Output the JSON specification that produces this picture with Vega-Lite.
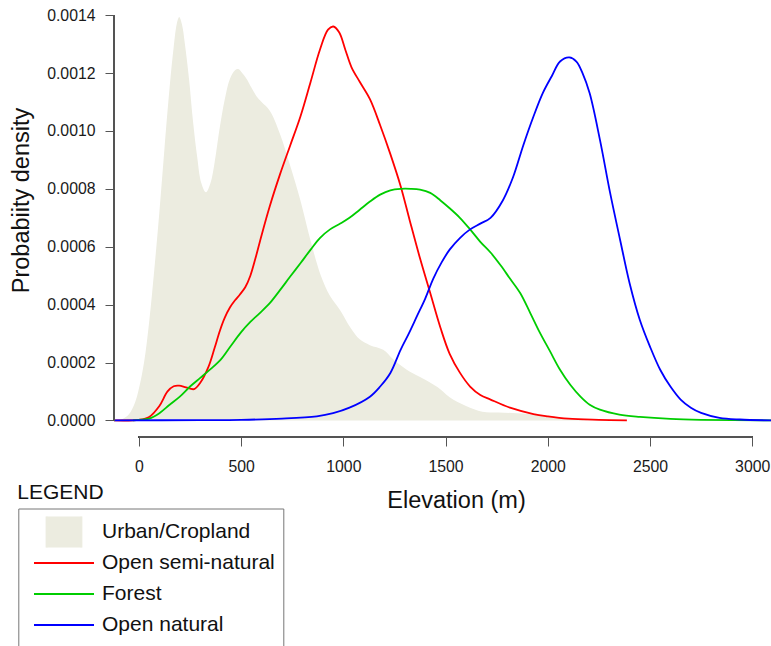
{
  "$schema": "https://vega.github.io/schema/vega-lite/v6.json",
  "width": 657,
  "height": 437,
  "autosize": {"type": "none"},
  "padding": {"left": 114, "top": 0, "right": 0, "bottom": 209},
  "background": "white",
  "config": {"view": {"stroke": null}, "font": "Liberation Sans"},
  "title": {"text": "LEGEND", "orient": "bottom", "anchor": "start", "frame": "group", "fontSize": 21, "fontWeight": "normal", "font": "Liberation Sans", "color": "#111111", "dx": -96.7, "offset": -150, "baseline": "alphabetic"},
  "datasets": {
    "dens": [
      {"landcover": "Urban/Cropland", "elevation": -122, "density": 0},
      {"landcover": "Urban/Cropland", "elevation": -80, "density": 0.000005},
      {"landcover": "Urban/Cropland", "elevation": -50, "density": 0.00002},
      {"landcover": "Urban/Cropland", "elevation": -20, "density": 0.00006},
      {"landcover": "Urban/Cropland", "elevation": 0, "density": 0.00011},
      {"landcover": "Urban/Cropland", "elevation": 25, "density": 0.0002},
      {"landcover": "Urban/Cropland", "elevation": 50, "density": 0.00034},
      {"landcover": "Urban/Cropland", "elevation": 75, "density": 0.00052},
      {"landcover": "Urban/Cropland", "elevation": 100, "density": 0.00072},
      {"landcover": "Urban/Cropland", "elevation": 125, "density": 0.00094},
      {"landcover": "Urban/Cropland", "elevation": 150, "density": 0.00115},
      {"landcover": "Urban/Cropland", "elevation": 170, "density": 0.00129},
      {"landcover": "Urban/Cropland", "elevation": 185, "density": 0.00137},
      {"landcover": "Urban/Cropland", "elevation": 197, "density": 0.001394},
      {"landcover": "Urban/Cropland", "elevation": 210, "density": 0.00137},
      {"landcover": "Urban/Cropland", "elevation": 225, "density": 0.0013},
      {"landcover": "Urban/Cropland", "elevation": 245, "density": 0.00118},
      {"landcover": "Urban/Cropland", "elevation": 265, "density": 0.00103},
      {"landcover": "Urban/Cropland", "elevation": 285, "density": 0.00091},
      {"landcover": "Urban/Cropland", "elevation": 305, "density": 0.00082},
      {"landcover": "Urban/Cropland", "elevation": 328, "density": 0.000788},
      {"landcover": "Urban/Cropland", "elevation": 350, "density": 0.00082},
      {"landcover": "Urban/Cropland", "elevation": 370, "density": 0.00089},
      {"landcover": "Urban/Cropland", "elevation": 395, "density": 0.00101},
      {"landcover": "Urban/Cropland", "elevation": 420, "density": 0.00111},
      {"landcover": "Urban/Cropland", "elevation": 445, "density": 0.00118},
      {"landcover": "Urban/Cropland", "elevation": 470, "density": 0.00121},
      {"landcover": "Urban/Cropland", "elevation": 486, "density": 0.001214},
      {"landcover": "Urban/Cropland", "elevation": 505, "density": 0.0012},
      {"landcover": "Urban/Cropland", "elevation": 527, "density": 0.00118},
      {"landcover": "Urban/Cropland", "elevation": 550, "density": 0.00115},
      {"landcover": "Urban/Cropland", "elevation": 575, "density": 0.00112},
      {"landcover": "Urban/Cropland", "elevation": 600, "density": 0.0011},
      {"landcover": "Urban/Cropland", "elevation": 640, "density": 0.00107},
      {"landcover": "Urban/Cropland", "elevation": 690, "density": 0.00099},
      {"landcover": "Urban/Cropland", "elevation": 740, "density": 0.00088},
      {"landcover": "Urban/Cropland", "elevation": 790, "density": 0.00076},
      {"landcover": "Urban/Cropland", "elevation": 840, "density": 0.00062},
      {"landcover": "Urban/Cropland", "elevation": 890, "density": 0.0005},
      {"landcover": "Urban/Cropland", "elevation": 935, "density": 0.00043},
      {"landcover": "Urban/Cropland", "elevation": 985, "density": 0.00038},
      {"landcover": "Urban/Cropland", "elevation": 1035, "density": 0.00032},
      {"landcover": "Urban/Cropland", "elevation": 1080, "density": 0.00028},
      {"landcover": "Urban/Cropland", "elevation": 1130, "density": 0.00026},
      {"landcover": "Urban/Cropland", "elevation": 1195, "density": 0.000244},
      {"landcover": "Urban/Cropland", "elevation": 1245, "density": 0.00021},
      {"landcover": "Urban/Cropland", "elevation": 1310, "density": 0.000175},
      {"landcover": "Urban/Cropland", "elevation": 1375, "density": 0.00015},
      {"landcover": "Urban/Cropland", "elevation": 1460, "density": 0.000115},
      {"landcover": "Urban/Cropland", "elevation": 1520, "density": 0.00008},
      {"landcover": "Urban/Cropland", "elevation": 1600, "density": 0.00005},
      {"landcover": "Urban/Cropland", "elevation": 1680, "density": 0.00003},
      {"landcover": "Urban/Cropland", "elevation": 1760, "density": 0.000027},
      {"landcover": "Urban/Cropland", "elevation": 1850, "density": 0.000025},
      {"landcover": "Urban/Cropland", "elevation": 1950, "density": 0.00002},
      {"landcover": "Urban/Cropland", "elevation": 2010, "density": 0.000015},
      {"landcover": "Urban/Cropland", "elevation": 2100, "density": 0.000005},
      {"landcover": "Urban/Cropland", "elevation": 2200, "density": 0},

      {"landcover": "Open semi-natural", "elevation": -122, "density": 0},
      {"landcover": "Open semi-natural", "elevation": 0, "density": 0.000002},
      {"landcover": "Open semi-natural", "elevation": 50, "density": 0.000012},
      {"landcover": "Open semi-natural", "elevation": 100, "density": 0.00005},
      {"landcover": "Open semi-natural", "elevation": 140, "density": 0.0001},
      {"landcover": "Open semi-natural", "elevation": 170, "density": 0.000118},
      {"landcover": "Open semi-natural", "elevation": 197, "density": 0.00012},
      {"landcover": "Open semi-natural", "elevation": 230, "density": 0.000114},
      {"landcover": "Open semi-natural", "elevation": 270, "density": 0.000108},
      {"landcover": "Open semi-natural", "elevation": 300, "density": 0.00013},
      {"landcover": "Open semi-natural", "elevation": 340, "density": 0.000185},
      {"landcover": "Open semi-natural", "elevation": 370, "density": 0.00025},
      {"landcover": "Open semi-natural", "elevation": 396, "density": 0.00031},
      {"landcover": "Open semi-natural", "elevation": 420, "density": 0.000355},
      {"landcover": "Open semi-natural", "elevation": 445, "density": 0.00039},
      {"landcover": "Open semi-natural", "elevation": 470, "density": 0.000415},
      {"landcover": "Open semi-natural", "elevation": 494, "density": 0.000435},
      {"landcover": "Open semi-natural", "elevation": 520, "density": 0.00046},
      {"landcover": "Open semi-natural", "elevation": 545, "density": 0.0005},
      {"landcover": "Open semi-natural", "elevation": 570, "density": 0.00056},
      {"landcover": "Open semi-natural", "elevation": 600, "density": 0.00064},
      {"landcover": "Open semi-natural", "elevation": 640, "density": 0.00074},
      {"landcover": "Open semi-natural", "elevation": 690, "density": 0.00085},
      {"landcover": "Open semi-natural", "elevation": 740, "density": 0.00095},
      {"landcover": "Open semi-natural", "elevation": 790, "density": 0.00105},
      {"landcover": "Open semi-natural", "elevation": 840, "density": 0.00117},
      {"landcover": "Open semi-natural", "elevation": 885, "density": 0.00128},
      {"landcover": "Open semi-natural", "elevation": 925, "density": 0.00135},
      {"landcover": "Open semi-natural", "elevation": 951, "density": 0.001361},
      {"landcover": "Open semi-natural", "elevation": 980, "density": 0.00134},
      {"landcover": "Open semi-natural", "elevation": 1010, "density": 0.00128},
      {"landcover": "Open semi-natural", "elevation": 1040, "density": 0.00122},
      {"landcover": "Open semi-natural", "elevation": 1080, "density": 0.00117},
      {"landcover": "Open semi-natural", "elevation": 1130, "density": 0.00111},
      {"landcover": "Open semi-natural", "elevation": 1180, "density": 0.00102},
      {"landcover": "Open semi-natural", "elevation": 1230, "density": 0.00092},
      {"landcover": "Open semi-natural", "elevation": 1280, "density": 0.00081},
      {"landcover": "Open semi-natural", "elevation": 1325, "density": 0.00069},
      {"landcover": "Open semi-natural", "elevation": 1375, "density": 0.00056},
      {"landcover": "Open semi-natural", "elevation": 1425, "density": 0.00044},
      {"landcover": "Open semi-natural", "elevation": 1475, "density": 0.00032},
      {"landcover": "Open semi-natural", "elevation": 1520, "density": 0.00023},
      {"landcover": "Open semi-natural", "elevation": 1570, "density": 0.000165},
      {"landcover": "Open semi-natural", "elevation": 1620, "density": 0.000117},
      {"landcover": "Open semi-natural", "elevation": 1670, "density": 0.000088},
      {"landcover": "Open semi-natural", "elevation": 1720, "density": 0.000072},
      {"landcover": "Open semi-natural", "elevation": 1815, "density": 0.000044},
      {"landcover": "Open semi-natural", "elevation": 1930, "density": 0.000022},
      {"landcover": "Open semi-natural", "elevation": 2000, "density": 0.000014},
      {"landcover": "Open semi-natural", "elevation": 2100, "density": 0.000006},
      {"landcover": "Open semi-natural", "elevation": 2250, "density": 0.000002},
      {"landcover": "Open semi-natural", "elevation": 2387, "density": 0},

      {"landcover": "Forest", "elevation": -30, "density": 0},
      {"landcover": "Forest", "elevation": 0, "density": 0.000002},
      {"landcover": "Forest", "elevation": 50, "density": 0.000006},
      {"landcover": "Forest", "elevation": 100, "density": 0.000025},
      {"landcover": "Forest", "elevation": 150, "density": 0.000054},
      {"landcover": "Forest", "elevation": 200, "density": 0.000082},
      {"landcover": "Forest", "elevation": 250, "density": 0.000117},
      {"landcover": "Forest", "elevation": 300, "density": 0.000147},
      {"landcover": "Forest", "elevation": 350, "density": 0.000177},
      {"landcover": "Forest", "elevation": 400, "density": 0.00021},
      {"landcover": "Forest", "elevation": 450, "density": 0.000258},
      {"landcover": "Forest", "elevation": 500, "density": 0.000305},
      {"landcover": "Forest", "elevation": 545, "density": 0.00034},
      {"landcover": "Forest", "elevation": 590, "density": 0.00037},
      {"landcover": "Forest", "elevation": 640, "density": 0.000405},
      {"landcover": "Forest", "elevation": 690, "density": 0.00045},
      {"landcover": "Forest", "elevation": 740, "density": 0.000497},
      {"landcover": "Forest", "elevation": 790, "density": 0.000543},
      {"landcover": "Forest", "elevation": 840, "density": 0.00059},
      {"landcover": "Forest", "elevation": 885, "density": 0.00063},
      {"landcover": "Forest", "elevation": 935, "density": 0.00066},
      {"landcover": "Forest", "elevation": 985, "density": 0.00068},
      {"landcover": "Forest", "elevation": 1030, "density": 0.0007},
      {"landcover": "Forest", "elevation": 1080, "density": 0.000728},
      {"landcover": "Forest", "elevation": 1130, "density": 0.000756},
      {"landcover": "Forest", "elevation": 1180, "density": 0.00078},
      {"landcover": "Forest", "elevation": 1230, "density": 0.000795},
      {"landcover": "Forest", "elevation": 1280, "density": 0.0008},
      {"landcover": "Forest", "elevation": 1330, "density": 0.0008},
      {"landcover": "Forest", "elevation": 1375, "density": 0.000797},
      {"landcover": "Forest", "elevation": 1425, "density": 0.000786},
      {"landcover": "Forest", "elevation": 1475, "density": 0.00076},
      {"landcover": "Forest", "elevation": 1520, "density": 0.000733},
      {"landcover": "Forest", "elevation": 1570, "density": 0.0007},
      {"landcover": "Forest", "elevation": 1620, "density": 0.00066},
      {"landcover": "Forest", "elevation": 1670, "density": 0.000617},
      {"landcover": "Forest", "elevation": 1720, "density": 0.00058},
      {"landcover": "Forest", "elevation": 1770, "density": 0.000535},
      {"landcover": "Forest", "elevation": 1815, "density": 0.00049},
      {"landcover": "Forest", "elevation": 1865, "density": 0.00044},
      {"landcover": "Forest", "elevation": 1915, "density": 0.00037},
      {"landcover": "Forest", "elevation": 1960, "density": 0.000305},
      {"landcover": "Forest", "elevation": 2010, "density": 0.00024},
      {"landcover": "Forest", "elevation": 2060, "density": 0.000175},
      {"landcover": "Forest", "elevation": 2110, "density": 0.000123},
      {"landcover": "Forest", "elevation": 2160, "density": 0.000082},
      {"landcover": "Forest", "elevation": 2205, "density": 0.000054},
      {"landcover": "Forest", "elevation": 2255, "density": 0.000037},
      {"landcover": "Forest", "elevation": 2350, "density": 0.00002},
      {"landcover": "Forest", "elevation": 2450, "density": 0.000012},
      {"landcover": "Forest", "elevation": 2600, "density": 0.000005},
      {"landcover": "Forest", "elevation": 2750, "density": 0.000002},
      {"landcover": "Forest", "elevation": 3092, "density": 0},

      {"landcover": "Open natural", "elevation": -122, "density": 0},
      {"landcover": "Open natural", "elevation": 300, "density": 0.000001},
      {"landcover": "Open natural", "elevation": 500, "density": 0.000002},
      {"landcover": "Open natural", "elevation": 700, "density": 0.000006},
      {"landcover": "Open natural", "elevation": 870, "density": 0.000014},
      {"landcover": "Open natural", "elevation": 950, "density": 0.000025},
      {"landcover": "Open natural", "elevation": 1030, "density": 0.000044},
      {"landcover": "Open natural", "elevation": 1130, "density": 0.000082},
      {"landcover": "Open natural", "elevation": 1180, "density": 0.000117},
      {"landcover": "Open natural", "elevation": 1230, "density": 0.000164},
      {"landcover": "Open natural", "elevation": 1280, "density": 0.000244},
      {"landcover": "Open natural", "elevation": 1320, "density": 0.0003},
      {"landcover": "Open natural", "elevation": 1360, "density": 0.00036},
      {"landcover": "Open natural", "elevation": 1400, "density": 0.00042},
      {"landcover": "Open natural", "elevation": 1440, "density": 0.00049},
      {"landcover": "Open natural", "elevation": 1480, "density": 0.000545},
      {"landcover": "Open natural", "elevation": 1520, "density": 0.00059},
      {"landcover": "Open natural", "elevation": 1570, "density": 0.00063},
      {"landcover": "Open natural", "elevation": 1620, "density": 0.00066},
      {"landcover": "Open natural", "elevation": 1670, "density": 0.00068},
      {"landcover": "Open natural", "elevation": 1720, "density": 0.0007},
      {"landcover": "Open natural", "elevation": 1780, "density": 0.00076},
      {"landcover": "Open natural", "elevation": 1830, "density": 0.00084},
      {"landcover": "Open natural", "elevation": 1880, "density": 0.00095},
      {"landcover": "Open natural", "elevation": 1930, "density": 0.00105},
      {"landcover": "Open natural", "elevation": 1975, "density": 0.00113},
      {"landcover": "Open natural", "elevation": 2020, "density": 0.00119},
      {"landcover": "Open natural", "elevation": 2060, "density": 0.00124},
      {"landcover": "Open natural", "elevation": 2105, "density": 0.001254},
      {"landcover": "Open natural", "elevation": 2140, "density": 0.00124},
      {"landcover": "Open natural", "elevation": 2170, "density": 0.0012},
      {"landcover": "Open natural", "elevation": 2205, "density": 0.00113},
      {"landcover": "Open natural", "elevation": 2255, "density": 0.00097},
      {"landcover": "Open natural", "elevation": 2305, "density": 0.000786},
      {"landcover": "Open natural", "elevation": 2355, "density": 0.00062},
      {"landcover": "Open natural", "elevation": 2400, "density": 0.000475},
      {"landcover": "Open natural", "elevation": 2450, "density": 0.000348},
      {"landcover": "Open natural", "elevation": 2500, "density": 0.000255},
      {"landcover": "Open natural", "elevation": 2550, "density": 0.000175},
      {"landcover": "Open natural", "elevation": 2600, "density": 0.000117},
      {"landcover": "Open natural", "elevation": 2650, "density": 0.000072},
      {"landcover": "Open natural", "elevation": 2700, "density": 0.000044},
      {"landcover": "Open natural", "elevation": 2750, "density": 0.000026},
      {"landcover": "Open natural", "elevation": 2840, "density": 0.000009},
      {"landcover": "Open natural", "elevation": 2940, "density": 0.000003},
      {"landcover": "Open natural", "elevation": 3092, "density": 0}
    ]
  },
  "data": {"name": "dens"},
  "encoding": {
    "x": {
      "field": "elevation", "type": "quantitative",
      "scale": {"domain": [-122, 3092], "nice": false, "zero": false},
      "axis": {
        "values": [0, 500, 1000, 1500, 2000, 2500, 3000],
        "format": "d",
        "domain": false, "grid": false, "tickSize": 9, "tickColor": "#555555", "tickWidth": 1,
        "labelFont": "Liberation Sans", "labelFontSize": 15.8, "labelColor": "#1a1a1a", "labelPadding": 13,
        "labelFlush": false, "labelOverlap": false,
        "title": "Elevation (m)", "titleFont": "Liberation Sans", "titleFontSize": 23.5, "titleFontWeight": "normal",
        "titleColor": "#111111", "titleX": 342, "titleY": 70.3, "titleBaseline": "alphabetic", "titleAlign": "center"
      }
    },
    "y": {
      "field": "density", "type": "quantitative",
      "scale": {"domain": [-0.0000574, 0.0014526], "nice": false, "zero": false},
      "axis": {
        "values": [0, 0.0002, 0.0004, 0.0006, 0.0008, 0.001, 0.0012, 0.0014],
        "format": ".4f",
        "domain": false, "grid": false, "tickSize": 9, "tickColor": "#555555", "tickWidth": 1,
        "labelFont": "Liberation Sans", "labelFontSize": 15.8, "labelColor": "#1a1a1a", "labelPadding": 10,
        "labelFlush": false, "labelOverlap": false,
        "title": "Probabiity density", "titleFont": "Liberation Sans", "titleFontSize": 23.5, "titleFontWeight": "normal",
        "titleColor": "#111111", "titleX": -86, "titleY": 200, "titleAngle": 270, "titleBaseline": "alphabetic", "titleAlign": "center"
      }
    }
  },
  "layer": [
    {
      "transform": [{"filter": "datum.landcover === 'Urban/Cropland'"}],
      "mark": {"type": "area", "interpolate": "catmull-rom", "clip": true, "opacity": 1},
      "encoding": {
        "color": {
          "field": "landcover", "type": "nominal",
          "scale": {"domain": ["Urban/Cropland", "Open semi-natural", "Forest", "Open natural"], "range": ["#ECECE0", "#FF0000", "#00CD00", "#0000FF"]},
          "legend": {
            "orient": "none", "legendX": -95.7, "legendY": 508.5, "title": null,
            "padding": 8, "strokeColor": "#777777",
            "symbolOffset": 6.7, "labelOffset": 7, "rowPadding": 0, "clipHeight": 31,
            "labelFont": "Liberation Sans", "labelFontSize": 21, "labelColor": "#111111", "labelLimit": 400,
            "symbolType": "stroke", "symbolSize": 3600, "symbolStrokeWidth": 1.8,
            "encode": {"symbols": {"update": {
              "shape": {"signal": "datum.value === 'Urban/Cropland' ? 'square' : 'stroke'"},
              "size": {"signal": "datum.value === 'Urban/Cropland' ? 1225 : 3600"},
              "fill": {"signal": "datum.value === 'Urban/Cropland' ? '#ECECE0' : 'transparent'"},
              "stroke": {"signal": "datum.value === 'Open semi-natural' ? '#FF0000' : datum.value === 'Forest' ? '#00CD00' : datum.value === 'Open natural' ? '#0000FF' : 'transparent'"},
              "strokeWidth": {"value": 1.8},
              "opacity": {"value": 1}
            }}}
          }
        }
      }
    },
    {
      "transform": [{"filter": "datum.landcover !== 'Urban/Cropland'"}],
      "mark": {"type": "line", "interpolate": "catmull-rom", "clip": true, "strokeWidth": 1.8},
      "encoding": {
        "color": {
          "field": "landcover", "type": "nominal",
          "scale": {"domain": ["Urban/Cropland", "Open semi-natural", "Forest", "Open natural"], "range": ["#ECECE0", "#FF0000", "#00CD00", "#0000FF"]},
          "legend": {
            "orient": "none", "legendX": -95.7, "legendY": 508.5, "title": null,
            "padding": 8, "strokeColor": "#777777",
            "symbolOffset": 6.7, "labelOffset": 7, "rowPadding": 0, "clipHeight": 31,
            "labelFont": "Liberation Sans", "labelFontSize": 21, "labelColor": "#111111", "labelLimit": 400,
            "symbolType": "stroke", "symbolSize": 3600, "symbolStrokeWidth": 1.8,
            "encode": {"symbols": {"update": {
              "shape": {"signal": "datum.value === 'Urban/Cropland' ? 'square' : 'stroke'"},
              "size": {"signal": "datum.value === 'Urban/Cropland' ? 1225 : 3600"},
              "fill": {"signal": "datum.value === 'Urban/Cropland' ? '#ECECE0' : 'transparent'"},
              "stroke": {"signal": "datum.value === 'Open semi-natural' ? '#FF0000' : datum.value === 'Forest' ? '#00CD00' : datum.value === 'Open natural' ? '#0000FF' : 'transparent'"},
              "strokeWidth": {"value": 1.8},
              "opacity": {"value": 1}
            }}}
          }
        }
      }
    },
    {
      "mark": {"type": "rule", "color": "#555555", "strokeWidth": 1},
      "encoding": {
        "x": {"datum": 0, "type": "quantitative"},
        "x2": {"datum": 3000},
        "y": {"datum": -0.0000574, "type": "quantitative"},
        "color": {"value": "#555555"}
      }
    },
    {
      "mark": {"type": "rule", "color": "#555555", "strokeWidth": 1},
      "encoding": {
        "x": {"datum": -122, "type": "quantitative"},
        "y": {"datum": 0, "type": "quantitative"},
        "y2": {"datum": 0.0014},
        "color": {"value": "#555555"}
      }
    }
  ]
}
